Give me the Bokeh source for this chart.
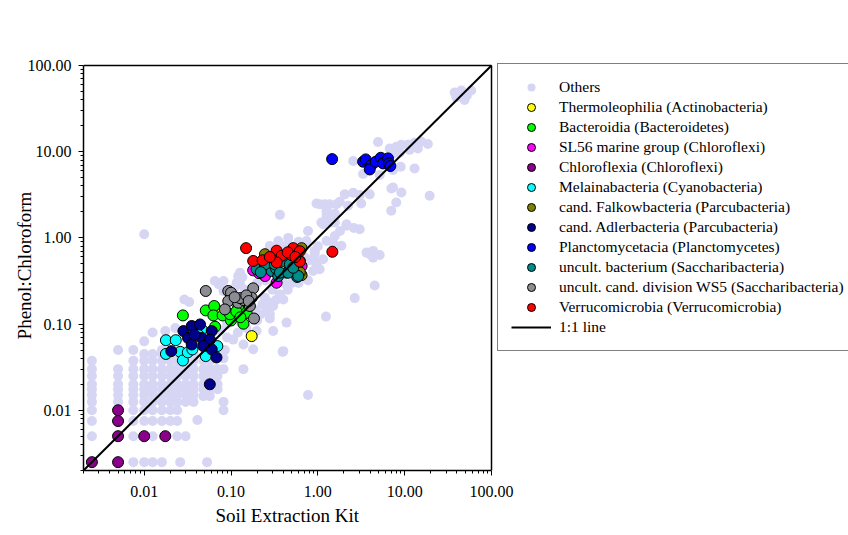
import math
from bokeh.plotting import figure
from bokeh.models import Range1d, FixedTicker, PrintfTickFormatter, Legend, LegendItem, Title
from bokeh.embed import file_html
from bokeh.resources import INLINE

# ---------------- data ----------------
others_x = [
    0.0025, 0.0025, 0.0025, 0.0025, 0.0025, 0.0025, 0.0025, 0.0025, 0.0025, 0.0025,
    0.005, 0.005, 0.005, 0.005, 0.005, 0.005, 0.005,
    0.0075, 0.0075, 0.0075, 0.0075, 0.0075, 0.0075, 0.0075, 0.0075, 0.0075, 0.0075, 0.0075, 0.0075,
    0.01, 0.01, 0.01, 0.01, 0.01, 0.01, 0.01, 0.01, 0.01, 0.01, 0.01, 0.01,
    0.0125, 0.0125, 0.0125, 0.0125, 0.0125, 0.0125, 0.0125, 0.0125, 0.0125, 0.0125, 0.0125, 0.0125, 0.0125,
    0.016, 0.016, 0.016, 0.016, 0.016, 0.016, 0.016, 0.016, 0.016, 0.016, 0.016, 0.016,
    0.02, 0.02, 0.02, 0.02, 0.02, 0.02, 0.02, 0.02, 0.02,
    0.024, 0.024, 0.024, 0.024, 0.024, 0.024, 0.024, 0.024, 0.024, 0.024,
    0.026,
    0.03, 0.03, 0.03, 0.03, 0.03, 0.03, 0.03, 0.03,
    0.037, 0.037, 0.037, 0.037, 0.037, 0.037, 0.037, 0.037,
    0.041,
    0.048, 0.048, 0.048, 0.048, 0.048, 0.048,
    0.053,
    0.057, 0.057, 0.057, 0.057, 0.057,
    0.07, 0.07, 0.07, 0.07,
    0.082, 0.082, 0.082, 0.082,
    0.0175, 0.0228, 0.029, 0.033, 0.072, 0.082, 0.121, 0.135, 0.127, 0.145,
    0.11, 0.065, 0.082, 0.116, 0.127, 0.106, 0.139, 0.18, 0.197, 0.306,
    0.246, 0.257, 0.306, 0.28, 0.28, 0.436, 0.4, 0.139, 0.068, 0.09,
    0.085, 0.12, 0.15, 0.2, 0.22, 0.16, 0.19, 0.23, 0.075, 0.09, 0.13,
    0.366, 0.28, 0.33, 0.4, 0.3, 0.45, 0.5, 0.2, 0.25, 0.4, 0.6,
    0.35, 0.28, 0.456, 0.366, 0.01,
    0.77, 0.88, 1.05, 0.965, 0.965, 1.15, 0.92, 0.92, 0.74, 0.77, 0.7, 0.8,
    0.55, 0.45, 0.38, 0.6, 0.7, 1.0,
    4.52, 2.66, 1.24, 0.393, 0.77, 3.96, 4.33, 5.16, 4.33, 3.63, 1.5, 1.87, 1.0,
    1.2, 1.05, 1.37, 1.64, 2.04, 2.55, 3.04, 3.96, 1.79, 3.16, 2.23, 1.26, 1.26,
    1.57, 1.1, 1.44, 1.57, 2.14, 2.14, 1.15, 3.04, 1.26, 1.57, 1.26, 0.965, 2.6, 1.8,
    7.34, 9.16, 8.0, 7.0, 19.4, 7.03, 2.55, 3.32, 5.16, 9.0, 13.0, 7.34,
    4.93, 6.72, 8.02, 9.16, 10.9, 13.0, 15.5, 18.5, 14.2, 11.4, 8.77, 7.34,
    37.6, 44.9, 58.4, 48.9, 39.3, 52.0, 42.0,
]
others_y = [
    0.005, 0.0075, 0.01, 0.0125, 0.015, 0.0175, 0.02, 0.025, 0.03, 0.0375,
    0.0125, 0.015, 0.0175, 0.02, 0.025, 0.03, 0.05,
    0.0025, 0.005, 0.0075, 0.01, 0.0125, 0.015, 0.0175, 0.02, 0.025, 0.03, 0.0375, 0.05,
    0.0025, 0.0075, 0.01, 0.0125, 0.015, 0.0175, 0.02, 0.025, 0.03, 0.0375, 0.045, 0.063,
    0.0025, 0.005, 0.0075, 0.01, 0.0125, 0.015, 0.0175, 0.02, 0.025, 0.03, 0.0375, 0.045, 0.08,
    0.0025, 0.0075, 0.01, 0.0125, 0.015, 0.0175, 0.02, 0.025, 0.03, 0.0375, 0.045, 0.05,
    0.0075, 0.01, 0.0125, 0.015, 0.0175, 0.02, 0.025, 0.03, 0.0375,
    0.005, 0.0075, 0.01, 0.0125, 0.015, 0.0175, 0.02, 0.025, 0.03, 0.0375,
    0.0025,
    0.005, 0.0125, 0.015, 0.0175, 0.02, 0.025, 0.03, 0.0375,
    0.0125, 0.015, 0.0175, 0.02, 0.025, 0.03, 0.0375, 0.045,
    0.0077,
    0.0146, 0.0175, 0.02, 0.025, 0.03, 0.0375,
    0.0025,
    0.0146, 0.0175, 0.025, 0.03, 0.0375,
    0.0175, 0.02, 0.025, 0.03,
    0.01, 0.0125, 0.03, 0.04,
    0.083, 0.09, 0.193, 0.18, 0.29, 0.242, 0.361, 0.35, 0.29, 0.25,
    0.26, 0.316, 0.316, 0.302, 0.395, 0.066, 0.058, 0.051, 0.083, 0.083,
    0.202, 0.155, 0.162, 0.116, 0.13, 0.104, 0.0485, 0.03, 0.03, 0.07,
    0.05, 0.08, 0.09, 0.11, 0.13, 0.14, 0.145, 0.17, 0.085, 0.1, 0.105,
    0.221, 0.177, 0.19, 0.193, 0.25, 0.25, 0.3, 0.3, 0.32, 0.3, 0.3,
    0.92, 0.807, 1.0, 1.85, 1.1,
    0.322, 0.413, 0.433, 0.516, 0.473, 0.565, 0.706, 0.65, 0.92, 1.2, 0.6, 0.55,
    0.8, 0.85, 0.8, 0.9, 0.8, 0.8,
    0.28, 0.2, 0.122, 0.0476, 0.015, 0.646, 0.706, 0.634, 0.59, 0.675, 0.88, 0.81, 0.45,
    2.46, 2.46, 2.46, 2.46, 3.2, 3.34, 3.14, 3.2, 2.62, 2.5, 2.36, 1.97, 2.1,
    1.92, 1.51, 1.51, 1.51, 1.44, 1.38, 1.44, 1.26, 1.8, 1.05, 0.92, 2.5, 1.3, 1.2,
    3.85, 3.36, 2.57, 2.06, 3.08, 3.74, 7.8, 5.5, 5.36, 6.69, 6.4, 6.12,
    12.97, 10.9, 11.4, 12.0, 12.0, 12.7, 13.1, 12.3, 10.9, 10.5, 9.73, 9.4,
    48.5, 51.2, 51.2, 39.9, 42.8, 45.0, 46.0,
]

thermo_x = [0.173, 0.075, 0.1, 0.115, 0.135, 0.09, 0.125]
thermo_y = [0.0725, 0.14, 0.125, 0.13, 0.125, 0.135, 0.145]

bactero_x = [0.0279, 0.0512, 0.064, 0.0626, 0.08, 0.1, 0.121, 0.139, 0.151, 0.0655, 0.0975, 0.115, 0.128]
bactero_y = [0.126, 0.144, 0.162, 0.126, 0.126, 0.11, 0.158, 0.101, 0.135, 0.093, 0.13, 0.14, 0.12]

sl56_x = [0.18, 0.246, 0.335, 0.21, 0.65]
sl56_y = [0.42, 0.361, 0.302, 0.39, 0.47]

chloro_x = [0.0025, 0.005, 0.005, 0.005, 0.005, 0.01, 0.0175]
chloro_y = [0.0025, 0.01, 0.0075, 0.005, 0.0025, 0.005, 0.005]

melaina_x = [0.0178, 0.0231, 0.0178, 0.026, 0.0279, 0.0318, 0.0359, 0.046, 0.0512, 0.0696, 0.042]
melaina_y = [0.065, 0.065, 0.045, 0.0476, 0.0378, 0.047, 0.0508, 0.0867, 0.0425, 0.0555, 0.075]

falkow_x = [0.246, 0.65, 0.569, 0.65, 0.62, 0.2, 0.62]
falkow_y = [0.646, 0.76, 0.47, 0.37, 0.54, 0.5, 0.4]

adler_x = [0.0205, 0.0283, 0.0353, 0.044, 0.032, 0.0353, 0.046, 0.06, 0.057, 0.048, 0.06, 0.068, 0.057, 0.038]
adler_y = [0.0485, 0.083, 0.095, 0.099, 0.069, 0.058, 0.069, 0.083, 0.066, 0.0555, 0.0508, 0.041, 0.02, 0.075]

plancto_x = [1.46, 3.32, 3.56, 4.14, 3.96, 4.64, 5.3, 5.64, 6.43, 6.6, 6.84]
plancto_y = [8.2, 7.65, 8.14, 7.0, 6.22, 7.65, 8.5, 7.31, 8.36, 7.31, 6.82]

saccha_x = [0.197, 0.246, 0.294, 0.33, 0.436, 0.47, 0.578, 0.35, 0.4, 0.28, 0.246, 0.32, 0.366, 0.456, 0.476, 0.594, 0.52, 0.22]
saccha_y = [0.433, 0.452, 0.413, 0.44, 0.395, 0.42, 0.352, 0.361, 0.54, 0.516, 0.494, 0.494, 0.395, 0.395, 0.494, 0.361, 0.45, 0.4]

ws5_x = [0.0512, 0.093, 0.1, 0.093, 0.121, 0.139, 0.18, 0.173, 0.165, 0.184, 0.085, 0.127, 0.15, 0.16, 0.11]
ws5_y = [0.242, 0.242, 0.231, 0.185, 0.177, 0.19, 0.26, 0.202, 0.162, 0.116, 0.148, 0.2, 0.215, 0.185, 0.205]

verruco_x = [0.149, 0.18, 0.231, 0.335, 0.383, 0.335, 0.5, 0.52, 0.62, 0.62, 1.47, 0.45, 0.28, 0.55]
verruco_y = [0.76, 0.54, 0.55, 0.71, 0.62, 0.52, 0.63, 0.76, 0.7, 0.53, 0.69, 0.68, 0.6, 0.6]

axis_min, axis_max = 0.002, 100
line_x = [axis_min, axis_max]
line_y = [axis_min, axis_max]

major_ticks = [0.01, 0.1, 1, 10, 100]

x_title = "Soil Extraction Kit"
y_title = "Phenol:Chloroform"
series_names = [
    "Others",
    "Thermoleophilia (Actinobacteria)",
    "Bacteroidia (Bacteroidetes)",
    "SL56 marine group (Chloroflexi)",
    "Chloroflexia (Chloroflexi)",
    "Melainabacteria (Cyanobacteria)",
    "cand. Falkowbacteria (Parcubacteria)",
    "cand. Adlerbacteria (Parcubacteria)",
    "Planctomycetacia (Planctomycetes)",
    "uncult. bacterium (Saccharibacteria)",
    "uncult. cand. division WS5 (Saccharibacteria)",
    "Verrucomicrobia (Verrucomicrobia)",
]
line_name = "1:1 line"
series_colors = ["#d6d6f4", "#ffff00", "#00ff00", "#ff00ff", "#8b008b", "#00ffff",
                 "#808000", "#00008b", "#0000ff", "#008b8b", "#8c8c94", "#ff0000"]
series_x = [others_x, thermo_x, bactero_x, sl56_x, chloro_x, melaina_x, falkow_x,
            adler_x, plancto_x, saccha_x, ws5_x, verruco_x]
series_y = [others_y, thermo_y, bactero_y, sl56_y, chloro_y, melaina_y, falkow_y,
            adler_y, plancto_y, saccha_y, ws5_y, verruco_y]

FONT = "Liberation Serif"

# ---------------- geometry ----------------
W, H = 848, 535
left, right_plot, top_plot, bottom_plot = 83, 491, 65, 470   # plot box in pixels
decades = math.log10(axis_max / axis_min)
ppd_x = (right_plot - left) / decades
ppd_y = (bottom_plot - top_plot) / decades
top_frame = 60
x_end = axis_max * 10 ** ((W - right_plot) / ppd_x)        # frame spans to window edge (legend lives there)
y_end = axis_max * 10 ** ((top_plot - top_frame) / ppd_y)

p = figure(width=W, height=H, x_axis_type="log", y_axis_type="log",
           x_range=Range1d(axis_min, x_end), y_range=Range1d(axis_min, y_end),
           output_backend="svg", toolbar_location=None,
           min_border_left=left, min_border_right=0, min_border_top=top_frame,
           min_border_bottom=H - bottom_plot,
           y_axis_label=y_title)
p.background_fill_color = "white"
p.border_fill_color = "white"
p.outline_line_color = None
p.xgrid.visible = False
p.ygrid.visible = False

minor = [k * 10.0 ** e for e in range(-3, 2) for k in range(2, 10)]
for ax in (p.xaxis[0], p.yaxis[0]):
    ax.bounds = (axis_min, axis_max)
    ax.ticker = FixedTicker(ticks=major_ticks, minor_ticks=minor)
    ax.formatter = PrintfTickFormatter(format="%.2f")
    ax.axis_line_color = "black"
    ax.axis_line_width = 1.5
    ax.major_tick_line_color = "black"
    ax.minor_tick_line_color = "black"
    ax.major_tick_out = 5
    ax.major_tick_in = 0
    ax.minor_tick_out = 3
    ax.minor_tick_in = 0
    ax.major_label_text_font = FONT
    ax.major_label_text_font_size = "16px"
    ax.major_label_text_color = "black"
    ax.axis_label_text_font = FONT
    ax.axis_label_text_font_size = "19px"
    ax.axis_label_text_font_style = "normal"
    ax.axis_label_text_color = "black"
p.xaxis[0].major_label_standoff = 10
p.yaxis[0].major_label_standoff = 7
p.yaxis[0].axis_label_standoff = -10

# x-axis title placed under the plot box (not under the whole frame)
p.add_layout(Title(text=x_title, align="left", offset=132,
                   text_font=FONT, text_font_size="19px", text_font_style="normal",
                   text_color="black", standoff=7), "below")

# top and right edges of the plot box
p.line([axis_min, axis_max], [axis_max, axis_max], line_color="black", line_width=1.5)
p.line([axis_max, axis_max], [axis_min, axis_max], line_color="black", line_width=1.5)

items = []
for i, (xs, ys, col, name) in enumerate(zip(series_x, series_y, series_colors, series_names)):
    if i == 0:
        r = p.scatter(xs, ys, size=10, fill_color=col, line_color=None)
    else:
        r = p.scatter(xs, ys, size=11, fill_color=col, line_color="black", line_width=1)
    items.append(LegendItem(label=name, renderers=[r]))
r = p.line(line_x, line_y, line_color="black", line_width=2)
items.append(LegendItem(label=line_name, renderers=[r]))

pad, row_h = 13, 20
leg_h = 2 * pad + row_h * len(items)
legend = Legend(items=items, location=(497 - left, bottom_plot - top_plot - leg_h),
                border_line_color="black", border_line_width=1.5,
                background_fill_color="white", background_fill_alpha=1.0,
                padding=pad, spacing=0, margin=0,
                glyph_width=40, glyph_height=row_h, label_height=row_h,
                label_standoff=8,
                label_text_font=FONT, label_text_font_size="15.5px",
                label_text_color="black")
p.add_layout(legend)

open("out.html", "w").write(file_html(p, INLINE))
